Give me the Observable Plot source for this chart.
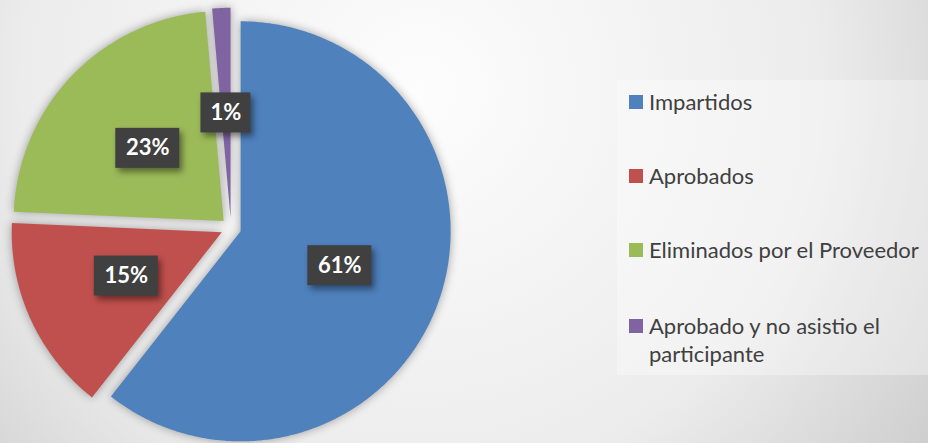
<!DOCTYPE html>
<html><head><meta charset="utf-8">
<script src="https://cdn.jsdelivr.net/npm/d3@7"></script>
<script src="https://cdn.jsdelivr.net/npm/@observablehq/plot@0.6"></script>
<style>
body{margin:0;background:#fff;}
#chart{position:relative;width:928px;height:443px;overflow:hidden;
 background:radial-gradient(circle at 420px 90px,#fdfdfd 0px,#ececec 400px,#c9c9c9 660px);}
#chart svg{position:absolute;left:0;top:0;}
#legend{position:absolute;left:617px;top:80px;width:311px;height:295px;background:rgba(255,255,255,0.32);
 font-family:Lato,"Open Sans",sans-serif;font-size:22px;color:#404040;}
.item{position:absolute;left:12px;width:299px;}
.key{position:absolute;left:0;top:7px;width:14px;height:14px;}
.lab{position:absolute;left:20px;top:0;width:279px;line-height:28px;}
</style></head>
<body><div id="chart"><div id="legend"></div></div>
<script>
const categories = ["Impartidos", "Aprobados", "Eliminados por el Proveedor", "Aprobado y no asistio el participante"];
const values = [60.6, 15.1, 22.9, 1.4];
const labels = ["61%", "15%", "23%", "1%"];
const colors = ["#4F81BD", "#C0504D", "#9BBB59", "#8064A2"];

const W = 928, H = 443, R = 210, CX = 230.5, CY = 227.5, EXPLODE = 10.2 / R;
const arcs = d3.pie().sort(null).value(d => d)(values);
const slicePts = [];
const labelData = [];
arcs.forEach((a, i) => {
  const cat = categories[i];
  const mid = (a.startAngle + a.endAngle) / 2;
  const ox = EXPLODE * Math.sin(mid), oy = -EXPLODE * Math.cos(mid);
  slicePts.push({cat, x: ox, y: oy});
  const n = Math.max(2, Math.ceil((a.endAngle - a.startAngle) / (Math.PI / 360)));
  for (let k = 0; k <= n; k++) {
    const t = a.startAngle + (a.endAngle - a.startAngle) * k / n;
    slicePts.push({cat, x: ox + Math.sin(t), y: oy - Math.cos(t)});
  }
  slicePts.push({cat, x: ox, y: oy});
  const lx = ox + 0.5 * Math.sin(mid), ly = oy - 0.5 * Math.cos(mid);
  const hw = (labels[i].length * 14 + 22) / 2 / R, hh = 20 / R;
  labelData.push({label: labels[i], x: lx, y: ly, x1: lx - hw, x2: lx + hw, y1: ly - hh, y2: ly + hh});
});

const plot = Plot.plot({
  width: W, height: H, margin: 0,
  x: {domain: [-CX / R, (W - CX) / R], range: [0, W], axis: null},
  y: {domain: [-CY / R, (H - CY) / R], range: [0, H], axis: null},
  color: {domain: categories, range: colors},
  style: {background: "transparent", overflow: "visible"},
  marks: [
    Plot.line(slicePts, {x: "x", y: "y", z: "cat", fill: "cat", stroke: "none", curve: "linear"}),
    Plot.rect(labelData, {x1: "x1", x2: "x2", y1: "y1", y2: "y2", fill: "#404040"}),
    Plot.text(labelData, {x: "x", y: "y", text: "label", fill: "white", fontSize: 22, fontWeight: "bold", fontFamily: "Lato, 'Open Sans', sans-serif"})
  ]
});
document.getElementById("chart").appendChild(plot);
d3.select(plot).selectAll("g[aria-label=line]").style("filter", "drop-shadow(0px 0px 5px rgba(0,0,0,0.35))");
d3.select(plot).selectAll("g[aria-label=rect]").style("filter", "drop-shadow(3px 4px 3px rgba(0,0,0,0.45))");

const legend = d3.select("#legend");
const centers = [22, 96, 170, 246];
categories.forEach((c, i) => {
  const it = legend.append("div").attr("class", "item").style("top", (centers[i] - 14) + "px");
  it.append("div").attr("class", "key").style("background", colors[i]);
  it.append("div").attr("class", "lab").text(c);
});
</script></body></html>
